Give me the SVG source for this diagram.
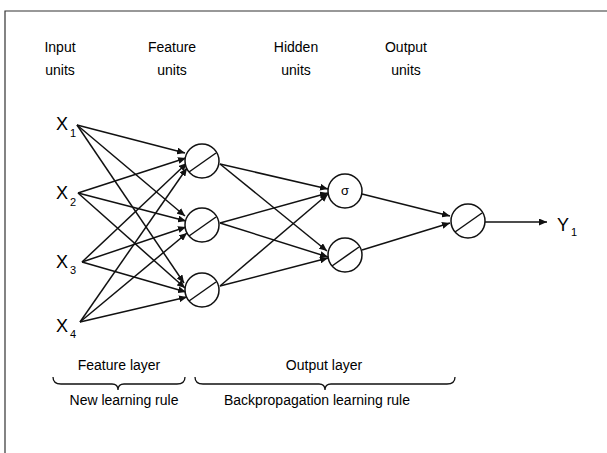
<svg xmlns="http://www.w3.org/2000/svg" width="607" height="453" viewBox="0 0 607 453">
<style>
text{font-family:"Liberation Sans",Arial,sans-serif;fill:#000}
.h{font-size:14px;text-anchor:middle}
.x{font-size:18px}
.s{font-size:11px}
.n{fill:#fff;stroke:#111;stroke-width:1.5}
.sl{stroke:#111;stroke-width:1.5;fill:none}
.e{stroke:#111;stroke-width:1.5;fill:none;marker-end:url(#a)}
.b{stroke:#111;stroke-width:1.3;fill:none}
</style>
<defs>
<marker id="a" markerUnits="userSpaceOnUse" markerWidth="9" markerHeight="7" refX="8" refY="3.5" orient="auto">
<path d="M0,0 L8,3.5 L0,7 Z" fill="#111"/>
</marker>
</defs>
<rect width="607" height="453" fill="#fff"/>
<path d="M5,453 V11 H607" fill="none" stroke="#333" stroke-width="1.2"/>

<g id="headers">
<text class="h" x="60" y="52">Input</text><text class="h" x="60" y="75">units</text>
<text class="h" x="172" y="52">Feature</text><text class="h" x="172" y="75">units</text>
<text class="h" x="296" y="52">Hidden</text><text class="h" x="296" y="75">units</text>
<text class="h" x="406" y="52">Output</text><text class="h" x="406" y="75">units</text>
</g>

<g id="connectors">
<path class="e" d="M77,125 L185,153"/>
<path class="e" d="M77,125 L185,216"/>
<path class="e" d="M77,125 L184,283"/>
<path class="e" d="M78,193 L186,158"/>
<path class="e" d="M78,193 L186,221"/>
<path class="e" d="M78,193 L185,288"/>
<path class="e" d="M82,262 L187,163"/>
<path class="e" d="M82,262 L186,227"/>
<path class="e" d="M82,262 L186,292"/>
<path class="e" d="M80,322 L187,168"/>
<path class="e" d="M80,322 L187,233"/>
<path class="e" d="M80,322 L187,297"/>
<path class="e" d="M220,164 L328,189"/>
<path class="e" d="M220,164 L327,251"/>
<path class="e" d="M220,223 L328,193"/>
<path class="e" d="M220,223 L328,257"/>
<path class="e" d="M220,286 L328,194"/>
<path class="e" d="M220,286 L328,258"/>
<path class="e" d="M362,194 L450,216"/>
<path class="e" d="M362,250 L450,223"/>
<path class="e" d="M485,222 L547,222"/>
</g>

<g id="x1"><text class="x" x="56" y="130">X</text><text class="s" x="70" y="137">1</text></g>
<g id="x2"><text class="x" x="56" y="199">X</text><text class="s" x="70" y="206">2</text></g>
<g id="x3"><text class="x" x="56" y="268">X</text><text class="s" x="70" y="274">3</text></g>
<g id="x4"><text class="x" x="56" y="332">X</text><text class="s" x="70" y="338">4</text></g>

<g id="f1"><circle class="n" cx="202" cy="161" r="17"/><path class="sl" d="M189,172 L216,153"/></g>
<g id="f2"><circle class="n" cx="202" cy="225" r="17"/><path class="sl" d="M189,236 L216,217"/></g>
<g id="f3"><circle class="n" cx="202" cy="290" r="17"/><path class="sl" d="M189,301 L216,282"/></g>

<g id="h1"><circle class="n" cx="345" cy="191" r="17"/><text x="345" y="195" font-size="13" text-anchor="middle">σ</text></g>
<g id="h2"><circle class="n" cx="345" cy="255" r="17"/><path class="sl" d="M332,266 L359,247"/></g>

<g id="o1"><circle class="n" cx="468" cy="221" r="17"/><path class="sl" d="M455,232 L482,213"/></g>

<g id="y1"><text class="x" x="557" y="231">Y</text><text class="s" x="571" y="236">1</text></g>

<g id="braces">
<text class="h" x="119" y="370">Feature layer</text>
<text class="h" x="324" y="370">Output layer</text>
<path class="b" d="M53,377 Q53,384 61,384 L112,384 Q118,384 118,390 Q118,384 124,384 L177,384 Q185,384 185,377"/>
<path class="b" d="M195,377 Q195,384 203,384 L319,384 Q325,384 325,390 Q325,384 331,384 L447,384 Q455,384 455,377"/>
<text class="h" x="124" y="405">New learning rule</text>
<text class="h" x="317" y="405">Backpropagation learning rule</text>
</g>
</svg>
